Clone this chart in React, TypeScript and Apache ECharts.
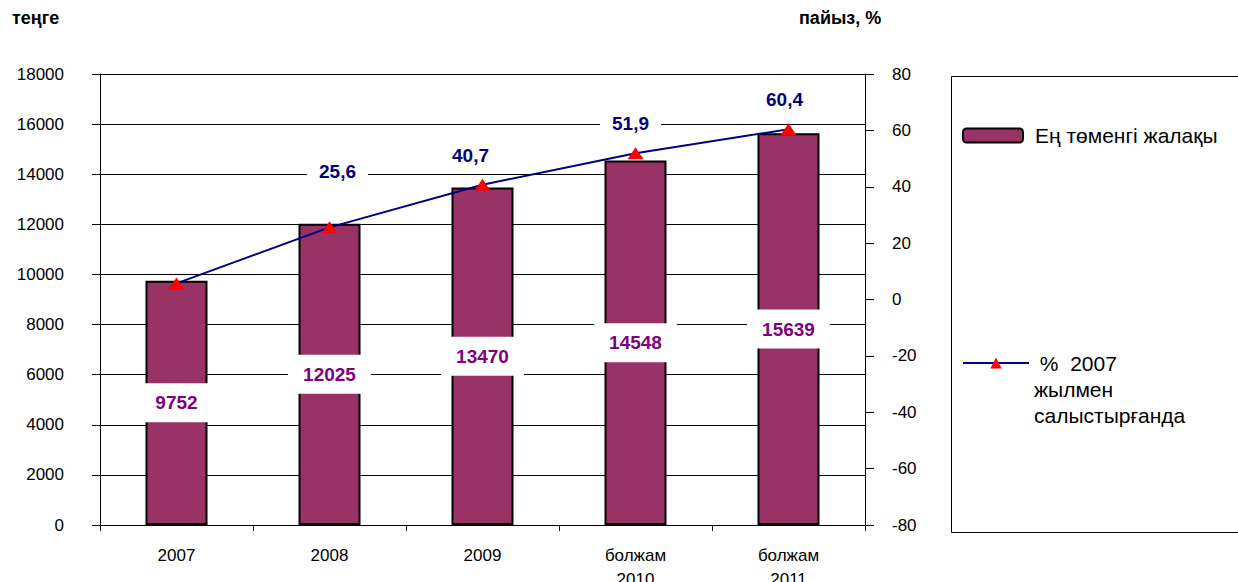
import React, { useEffect, useRef } from "react";
import * as echarts from "echarts";

const categories = ["2007", "2008", "2009", "болжам\n2010", "болжам\n2011"];
const wageValues = [9752, 12025, 13470, 14548, 15639];
const percentValues = [5.7, 25.6, 40.7, 51.9, 60.4];
const percentLabelShown = [false, true, true, true, true];
const barName = "Ең төменгі жалақы";
const lineName = "%  2007\nжылмен\nсалыстырғанда";
const leftTitle = "теңге";
const rightTitle = "пайыз, %";

const FONT = "'Liberation Sans', Arial, sans-serif";
const lineLabelOffsets = [
  [0, 0],
  [8, -26],
  [-12, 0],
  [-5, 0],
  [-4, 0],
];

export default function App() {
  const ref = useRef<HTMLDivElement>(null);
  useEffect(() => {
    if (!ref.current) return;
    const chart = echarts.init(ref.current, null, { renderer: "svg" });
    chart.setOption({
      animation: false,
      backgroundColor: "#ffffff",
      textStyle: { fontFamily: FONT },
      title: [
        {
          text: leftTitle,
          left: 12,
          top: 9,
          padding: 0,
          textStyle: { fontFamily: FONT, fontSize: 18, fontWeight: "bold", color: "#000" },
        },
        {
          text: rightTitle,
          left: 799,
          top: 9,
          padding: 0,
          textStyle: { fontFamily: FONT, fontSize: 18, fontWeight: "bold", color: "#000" },
        },
      ],
      graphic: [
        {
          type: "rect",
          left: 949,
          top: 74,
          shape: { width: 300, height: 456 },
          style: { fill: "none", stroke: "#000", lineWidth: 1 },
        },
      ],
      legend: [
        {
          data: [barName],
          left: 962,
          top: 125,
          padding: 0,
          itemWidth: 60,
          itemHeight: 14,
          textStyle: { fontFamily: FONT, fontSize: 21, color: "#000", padding: [0, 0, 0, 7] },
        },
        {
          data: [lineName],
          left: 962,
          top: 298,
          padding: 0,
          itemWidth: 66,
          itemHeight: 14,
          formatter: (n: string) => "\n\n " + n,
          textStyle: {
            fontFamily: FONT,
            fontSize: 21,
            color: "#000",
            lineHeight: 26,
          },
        },
      ],
      grid: { left: 100, right: 373, top: 74, bottom: 57, containLabel: false, outerBoundsMode: "none" },
      xAxis: {
        type: "category",
        data: categories,
        boundaryGap: true,
        axisLine: { lineStyle: { color: "#000", width: 1 } },
        axisTick: { show: true, length: 6, alignWithLabel: false, lineStyle: { color: "#000" } },
        axisLabel: { fontFamily: FONT, fontSize: 17, color: "#000", margin: 18, lineHeight: 24 },
      },
      yAxis: [
        {
          type: "value",
          min: 0,
          max: 18000,
          interval: 2000,
          axisLine: { show: true, lineStyle: { color: "#000", width: 1 } },
          axisTick: { show: true, length: 8, lineStyle: { color: "#000" } },
          axisLabel: {
            fontFamily: FONT,
            fontSize: 17,
            color: "#000",
            margin: 36,
            formatter: (v: number) => String(v),
          },
          splitLine: { show: true, lineStyle: { color: "#000", width: 1 } },
        },
        {
          type: "value",
          min: -80,
          max: 80,
          interval: 20,
          position: "right",
          axisLine: { show: true, lineStyle: { color: "#000", width: 1 } },
          axisTick: { show: true, length: 9, lineStyle: { color: "#000" } },
          axisLabel: { fontFamily: FONT, fontSize: 17, color: "#000", margin: 27 },
          splitLine: { show: false },
        },
      ],
      series: [
        {
          name: barName,
          type: "bar",
          yAxisIndex: 0,
          data: wageValues,
          barWidth: 62,
          itemStyle: { color: "#993366", borderColor: "#000", borderWidth: 2 },
          label: {
            show: true,
            position: "inside",
            fontFamily: FONT,
            fontSize: 19,
            fontWeight: "bold",
            color: "#800080",
            backgroundColor: "#ffffff",
            padding: [10, 15],
          },
          z: 2,
        },
        {
          name: lineName,
          type: "line",
          yAxisIndex: 1,
          data: percentValues.map((v, i) => ({
            value: v,
            label: {
              show: percentLabelShown[i],
              offset: lineLabelOffsets[i],
            },
          })),
          symbol: "triangle",
          symbolSize: [16, 12],
          itemStyle: { color: "#ff0000" },
          lineStyle: { color: "#000080", width: 2 },
          label: {
            position: "top",
            distance: 10,
            fontFamily: FONT,
            fontSize: 19,
            fontWeight: "bold",
            color: "#000080",
            backgroundColor: "#ffffff",
            padding: [4, 12],
            formatter: (p: any) => String(p.value).replace(".", ","),
          },
          z: 3,
        },
      ],
    });
    return () => chart.dispose();
  }, []);
  return <div ref={ref} style={{ width: 1238, height: 582, position: "absolute", left: 0, top: 0 }} />;
}
